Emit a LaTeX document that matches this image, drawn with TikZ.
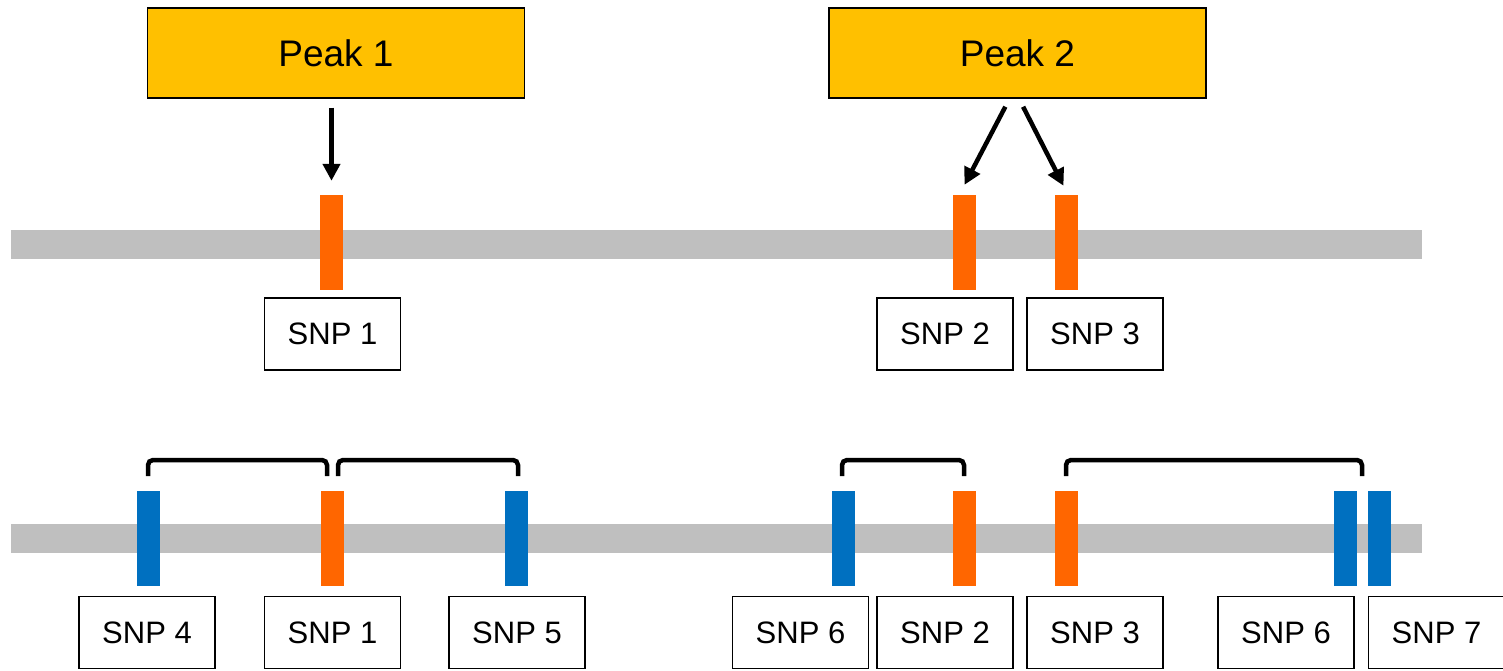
\documentclass[tikz,border=0pt]{standalone}
\usepackage{fontspec}
\setmainfont{Liberation Sans}
\usetikzlibrary{arrows.meta}

\definecolor{peakgold}{HTML}{FFC000}
\definecolor{snporange}{HTML}{FF6600}
\definecolor{snpblue}{HTML}{0070C0}
\definecolor{chromgray}{HTML}{BFBFBF}

\tikzset{
    peakbox/.style={draw=black,line width=1.5pt,fill=peakgold,minimum width=377pt,minimum height=90pt,inner sep=0pt,font=\fontsize{37}{40}\selectfont},
    snpbox/.style={draw=black,line width=1.5pt,fill=white,minimum width=136pt,minimum height=72pt,inner sep=0pt,font=\fontsize{31}{34}\selectfont},
    chrom/.style={fill=chromgray,minimum width=1411pt,minimum height=29pt,inner sep=0pt},
    causal/.style={fill=snporange,minimum width=23pt,minimum height=95pt,inner sep=0pt},
    ldsnp/.style={fill=snpblue,minimum width=23pt,minimum height=95pt,inner sep=0pt},
    arr/.style={line width=4.5pt,-{Triangle[length=17pt,width=17pt]}},
    bracket/.style={line width=4.5pt,rounded corners=5pt}
}

\begin{document}
\begin{tikzpicture}[x=1pt,y=-1pt]
    \useasboundingbox[fill=white] (0,0) rectangle (1503,671);

    % Peaks
    \node[peakbox] (pk1) at (336,53) {Peak 1};
    \node[peakbox] (pk2) at (1017.5,53) {Peak 2};

    % Upper chromosome with the peak SNPs
    \node[chrom] (chromA) at (716.5,244.5) {};
    \node[causal] (sm1) at (331.5,242.5) {};
    \node[causal] (sm2) at (964.5,242.5) {};
    \node[causal] (sm3) at (1066.5,242.5) {};

    \node[snpbox] (sa1) at (332.5,334) {SNP 1};
    \node[snpbox] (sa2) at (945,334) {SNP 2};
    \node[snpbox] (sa3) at (1095,334) {SNP 3};

    % Arrows from the peaks
    \draw[arr,shorten <=9pt,shorten >=14pt] (sm1.north |- pk1.south) -- (sm1.north);
    \draw[arr,shorten <=9pt] ([xshift=-8pt]pk2.south) -- ([yshift=10pt]sm2.north);
    \draw[arr,shorten <=9pt] ([xshift=1.5pt]pk2.south) -- ([xshift=-3pt,yshift=9pt]sm3.north);

    % Lower chromosome with the SNPs in LD
    \node[chrom] (chromB) at (716.5,538) {};
    \node[ldsnp]  (bm4) at (148.5,538.5) {};
    \node[causal] (bm1) at (332.5,538.5) {};
    \node[ldsnp]  (bm5) at (516.5,538.5) {};
    \node[ldsnp]  (bm6) at (843,538.5) {};
    \node[causal] (bm2) at (964.5,538.5) {};
    \node[causal] (bm3) at (1066.5,538.5) {};
    \node[ldsnp]  (bm6b) at (1345.5,538.5) {};
    \node[ldsnp]  (bm7) at (1379.5,538.5) {};

    \node[snpbox] (sb4) at (147,632.5) {SNP 4};
    \node[snpbox] (sb1) at (332.5,632.5) {SNP 1};
    \node[snpbox] (sb5) at (517,632.5) {SNP 5};
    \node[snpbox] (sb6) at (800.5,632.5) {SNP 6};
    \node[snpbox] (sb2) at (945,632.5) {SNP 2};
    \node[snpbox] (sb3) at (1095,632.5) {SNP 3};
    \node[snpbox] (sb6b) at (1286,632.5) {SNP 6};
    \node[snpbox] (sb7) at (1436.5,632.5) {SNP 7};

    % Brackets over the SNPs in LD
    \draw[bracket] (148,476) -- (148,460) -- (327,460) -- (327,476);
    \draw[bracket] (338,476) -- (338,460) -- (518,460) -- (518,476);
    \draw[bracket] (842,476) -- (842,460) -- (964,460) -- (964,476);
    \draw[bracket] (1066,476) -- (1066,460) -- (1362,460) -- (1362,476);

\end{tikzpicture}
\end{document}
